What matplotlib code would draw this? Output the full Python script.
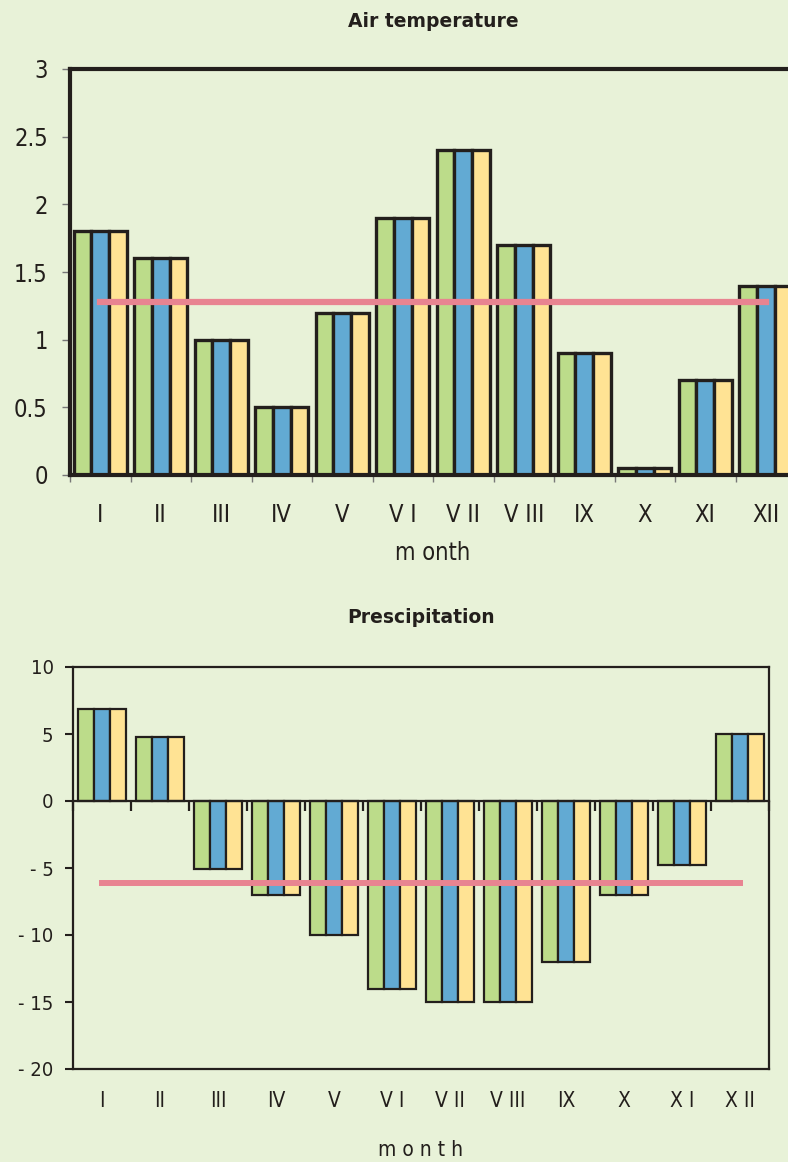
import matplotlib
matplotlib.use('Agg')
import matplotlib.pyplot as plt
import numpy as np

# data
months_top = ['I', 'II', 'III', 'IV', 'V', 'V I', 'V II', 'V III', 'IX', 'X', 'XI', 'XII']
months_bot = ['I', 'II', 'III', 'IV', 'V', 'V I', 'V II', 'V III', 'IX', 'X', 'X I', 'X II']

temp_a = [1.8, 1.6, 1.0, 0.5, 1.2, 1.9, 2.4, 1.7, 0.9, 0.05, 0.7, 1.4]
temp_b = [1.8, 1.6, 1.0, 0.5, 1.2, 1.9, 2.4, 1.7, 0.9, 0.05, 0.7, 1.4]
temp_c = [1.8, 1.6, 1.0, 0.5, 1.2, 1.9, 2.4, 1.7, 0.9, 0.05, 0.7, 1.4]
temp_mean = 1.28

prec_a = [6.9, 4.8, -5.1, -7.0, -10.0, -14.0, -15.0, -15.0, -12.0, -7.0, -4.8, 5.0]
prec_b = [6.9, 4.8, -5.1, -7.0, -10.0, -14.0, -15.0, -15.0, -12.0, -7.0, -4.8, 5.0]
prec_c = [6.9, 4.8, -5.1, -7.0, -10.0, -14.0, -15.0, -15.0, -12.0, -7.0, -4.8, 5.0]
prec_mean = -6.1

temp_yticks = [0, 0.5, 1, 1.5, 2, 2.5, 3]
temp_ylabels = ['0', '0.5', '1', '1.5', '2', '2.5', '3']
prec_yticks = [-20, -15, -10, -5, 0, 5, 10]
prec_ylabels = ['- 20', '- 15', '- 10', '- 5', '0', '5', '10']

# style
BG = '#E8F2D8'
GREEN = '#BCDC8A'
BLUE = '#62AAD3'
YELLOW = '#FFE394'
PINK = '#E88491'
DARK = '#231F1C'
NARROW = dict(family=['DejaVu Sans'], fontstretch='condensed')
TITLEFONT = dict(family=['DejaVu Sans'], fontweight='bold', fontsize=13.5, color=DARK)

fig = plt.figure(figsize=(7.88, 11.62), dpi=100, facecolor=BG)

x = np.arange(12)

# ---------- Air temperature ----------
ax1 = fig.add_axes([70/788, 1 - 475/1162, 726/788, 406/1162], facecolor=BG)
w = 0.292
for off, vals, col in [(-w, temp_a, GREEN), (0, temp_b, BLUE), (w, temp_c, YELLOW)]:
    ax1.bar(x + off, vals, width=w, color=col, edgecolor=DARK, linewidth=2.4, zorder=2)
ax1.plot(x[[0, -1]], [temp_mean, temp_mean], color=PINK, linewidth=4.5, zorder=3)
ax1.set_xlim(-0.5, 11.5)
ax1.set_ylim(0, 3)
ax1.set_yticks(temp_yticks, temp_ylabels, fontsize=17, color=DARK, **NARROW)
ax1.tick_params(axis='y', length=6, width=1, color='#777777', pad=10)
ax1.set_xticks(x, months_top, fontsize=17, color=DARK, **NARROW)
ax1.set_xticks(np.arange(13) - 0.5, minor=True)
ax1.tick_params(axis='x', which='major', length=0, pad=20)
ax1.tick_params(axis='x', which='minor', length=5, width=1, color='#777777')
for s in ['left', 'top', 'bottom']:
    ax1.spines[s].set_linewidth(3)
    ax1.spines[s].set_color(DARK)
ax1.spines['right'].set_visible(False)
ax1.set_title('Air temperature', pad=30, **TITLEFONT)
ax1.set_xlabel('m onth', fontsize=17, color=DARK, labelpad=10, **NARROW)

# ---------- Precipitation ----------
ax2 = fig.add_axes([73/788, 1 - 1069/1162, 696/788, 402/1162], facecolor=BG)
w2 = 0.278
for off, vals, col in [(-w2, prec_a, GREEN), (0, prec_b, BLUE), (w2, prec_c, YELLOW)]:
    ax2.bar(x + off, vals, width=w2, color=col, edgecolor=DARK, linewidth=1.6, zorder=2)
ax2.plot(x[[0, -1]], [prec_mean, prec_mean], color=PINK, linewidth=4.3, zorder=3)
ax2.set_xlim(-0.5, 11.5)
ax2.set_ylim(-20, 10)
ax2.set_yticks(prec_yticks, prec_ylabels, fontsize=14.5, color=DARK, **NARROW)
ax2.tick_params(axis='y', length=6, width=1.5, color=DARK, pad=8)
for s in ax2.spines.values():
    s.set_linewidth(1.6)
    s.set_color(DARK)
ax2.spines['bottom'].set_position(('data', 0))
ax2.set_xticks(np.arange(13) - 0.5)
ax2.tick_params(axis='x', length=7, width=1.6, color=DARK, labelbottom=False)

sec = ax2.secondary_xaxis('bottom')
sec.spines['bottom'].set_linewidth(1.6)
sec.spines['bottom'].set_color(DARK)
sec.set_xticks(x, months_bot, fontsize=15, color=DARK, **NARROW)
sec.tick_params(axis='x', length=0, pad=16)
sec.set_xlabel('m o n t h', fontsize=15, color=DARK, labelpad=21, **NARROW)

ax2.set_title('Prescipitation', pad=32, **TITLEFONT)

fig.savefig('out.png', dpi=100, facecolor=BG)
